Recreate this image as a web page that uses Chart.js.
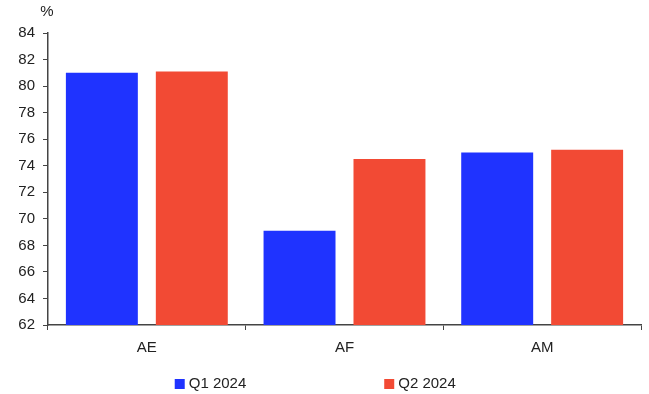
<!DOCTYPE html>
<html>
<head>
<meta charset="utf-8">
<script src="https://cdn.jsdelivr.net/npm/chart.js@4/dist/chart.umd.min.js"></script>
<style>
html,body{margin:0;padding:0;background:#fff;}
canvas{display:block;}
</style>
</head>
<body>
<canvas id="c" width="649" height="394"></canvas>
<script>
const categories = ['AE', 'AF', 'AM'];
const q1_2024 = [81.0, 69.1, 75.0];
const q2_2024 = [81.1, 74.5, 75.2];
const seriesLabels = ['Q1 2024', 'Q2 2024'];
const yTicks = [62, 64, 66, 68, 70, 72, 74, 76, 78, 80, 82, 84];
const yUnit = '%';

const BLUE = '#1f33ff';
const RED = '#f24a34';
const AXIS = '#444444';
const FONT = "'Liberation Sans', Arial, sans-serif";

const extras = {
  id: 'extras',
  afterDraw(chart) {
    const ctx = chart.ctx;
    const ca = chart.chartArea;
    ctx.save();
    ctx.fillStyle = '#222';
    ctx.font = '15px ' + FONT;
    ctx.textAlign = 'center';
    ctx.textBaseline = 'middle';
    ctx.fillText(yUnit, ca.left - 1, 12);
    // legend
    const cx = (ca.left + ca.right) / 2;
    const ds = chart.data.datasets;
    const centers = [cx - 134, cx + 75.5];
    ds.forEach((d, i) => {
      const text = d.label;
      const tw = ctx.measureText(text).width;
      const box = 10, gap = 4;
      const total = box + gap + tw;
      const x0 = centers[i] - total / 2;
      const y = 384;
      ctx.fillStyle = d.backgroundColor;
      ctx.fillRect(x0, y - 5, box, box);
      ctx.fillStyle = '#222';
      ctx.textAlign = 'left';
      ctx.fillText(text, x0 + box + gap, y);
    });
    ctx.restore();
  }
};

new Chart(document.getElementById('c'), {
  type: 'bar',
  data: {
    labels: categories,
    datasets: [
      { label: seriesLabels[0], data: q1_2024, backgroundColor: BLUE },
      { label: seriesLabels[1], data: q2_2024, backgroundColor: RED }
    ]
  },
  options: {
    responsive: false,
    animation: false,
    devicePixelRatio: 1,
    layout: { padding: { left: 0, right: 8, top: 33, bottom: 0 } },
    datasets: { bar: { categoryPercentage: 0.91, barPercentage: 0.8 } },
    plugins: { legend: { display: false }, tooltip: { enabled: false } },
    scales: {
      x: {
        grid: { display: true, drawOnChartArea: false, drawTicks: true, tickLength: 5, color: AXIS, offset: true },
        border: { display: true, color: AXIS, width: 1.5 },
        ticks: { color: '#222', font: { family: FONT, size: 15 }, padding: 9 },
        afterFit(s) { s.height = 69; }
      },
      y: {
        min: 62, max: 84,
        afterBuildTicks(s) { s.ticks = yTicks.map(v => ({ value: v })); },
        grid: { display: true, drawOnChartArea: false, drawTicks: true, tickLength: 5, color: AXIS },
        border: { display: true, color: AXIS, width: 1.5 },
        ticks: { color: '#222', font: { family: FONT, size: 15 }, padding: 8 },
        afterFit(s) { s.width = 48; }
      }
    }
  },
  plugins: [extras]
});
</script>
</body>
</html>
